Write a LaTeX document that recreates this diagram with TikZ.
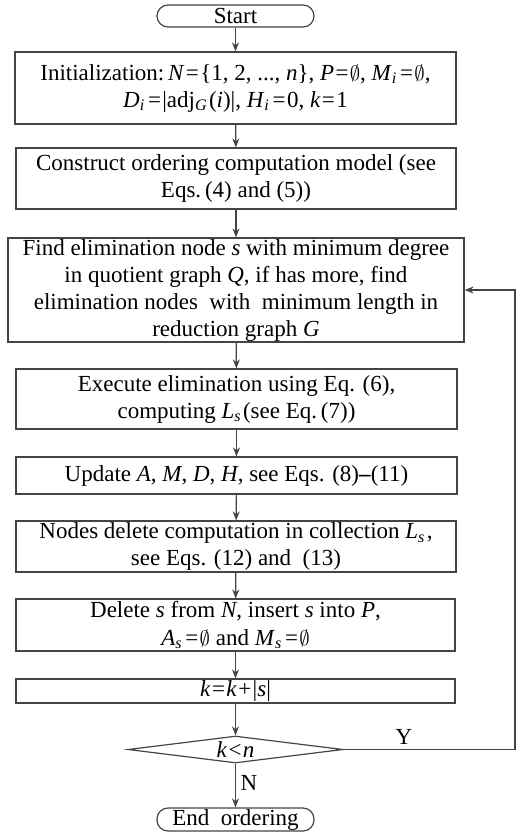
\documentclass[tikz,border=0pt]{standalone}
\usepackage{fontspec}
\setmainfont{Liberation Serif}
\usetikzlibrary{shapes.geometric,arrows.meta}
\definecolor{linec}{HTML}{444444}
\newcommand\vr[1]{\textit{#1}}
\newcommand\sbi[1]{\textsubscript{\textit{#1}}\kern0.08em}
\newcommand\nul{{\fontsize{20}{27}\selectfont$\emptyset$}}
\newcommand\eqsign{\kern0.06em=\kern0.06em}
\tikzset{
  txt/.style={font=\fontsize{23}{27}\selectfont, align=center, inner sep=0pt},
  box/.style={txt, draw=linec, line width=1.2pt},
  term/.style={box, rounded corners=11pt},
  cond/.style={txt, draw=linec, line width=1.2pt, diamond, aspect=8},
  flow/.style={draw=linec, line width=1.2pt, -{Stealth[length=9pt,width=7pt]}},
  lbl/.style={txt}
}
\begin{document}
\begin{tikzpicture}[x=1pt,y=-1pt]
\useasboundingbox (0,0) rectangle (520,836);

\node[term, minimum width=157pt, minimum height=22pt] (start) at (235.5,16) {Start};

\node[box, minimum width=441pt, minimum height=72pt] (init) at (235.5,88)
  {Initialization:\,\vr{N}\eqsign\{1, 2, ..., \vr{n}\}, \vr{P}\eqsign\nul, \vr{M}\sbi{i}\eqsign\nul,\\
   \vr{D}\sbi{i}\eqsign|adj\sbi{G}(\vr{i})|, \vr{H}\sbi{i}\eqsign0, \vr{k}\eqsign1};

\node[box, minimum width=440pt, minimum height=61pt] (model) at (236,178.5)
  {Construct ordering computation model (see\\ Eqs.\,(4) and (5))};

\node[box, minimum width=456pt, minimum height=104pt] (find) at (236,290)
  {Find elimination node \vr{s} with minimum degree\\
   in quotient graph \vr{Q}, if has more, find\\
   elimination nodes\ \ with\ \ minimum length in\\
   reduction graph \vr{G}};

\node[box, minimum width=441pt, minimum height=60pt] (exec) at (236.5,399)
  {Execute elimination using Eq. (6),\\ computing \vr{L}\sbi{s} (see Eq.\,(7))};

\node[box, minimum width=441pt, minimum height=37pt] (update) at (236.5,475.5)
  {Update \vr{A}, \vr{M}, \vr{D}, \vr{H}, see Eqs. (8)\textbf{--}(11)};

\node[box, minimum width=440pt, minimum height=51pt] (del) at (236,546.5)
  {Nodes delete computation in collection \vr{L}\sbi{s} ,\\ see Eqs. (12) and\ \ (13)};

\node[box, minimum width=439pt, minimum height=52pt, font=\fontsize{23}{28}\selectfont] (move) at (235.5,625)
  {Delete \vr{s} from \vr{N}, insert \vr{s} into \vr{P},\\ \vr{A}\sbi{s}\eqsign\nul\ and \vr{M}\sbi{s}\eqsign\nul};

\node[box, minimum width=439pt, minimum height=24pt] (inc) at (235.5,691)
  {\vr{k}\eqsign\vr{k}\kern0.06em+\kern0.06em|\vr{s}|};

\node[cond, minimum width=215pt, minimum height=27pt] (test) at (235.5,749.5)
  {\vr{k}\kern0.06em<\kern0.06em\vr{n}};

\node[term, minimum width=157pt, minimum height=23pt] (stop) at (235.5,819.5)
  {End\ \ ordering};

\coordinate (loopA) at (515,749.5);
\coordinate (loopB) at (515,290);

\draw[flow] (start) -- (init);
\draw[flow] (init) -- (model);
\draw[flow] (model) -- (find);
\draw[flow] (find) -- (exec);
\draw[flow] (exec) -- (update);
\draw[flow] (update) -- (del);
\draw[flow] (del) -- (move);
\draw[flow] (move) -- (inc);
\draw[flow] (inc) -- (test);
\draw[flow] (test) -- (stop);
\draw[flow] (test.east) -- (loopA) -- (loopB) -- (find.east);

\node[lbl] (yes) at (404,737) {Y};
\node[lbl] (no) at (249,783) {N};
\end{tikzpicture}
\end{document}
